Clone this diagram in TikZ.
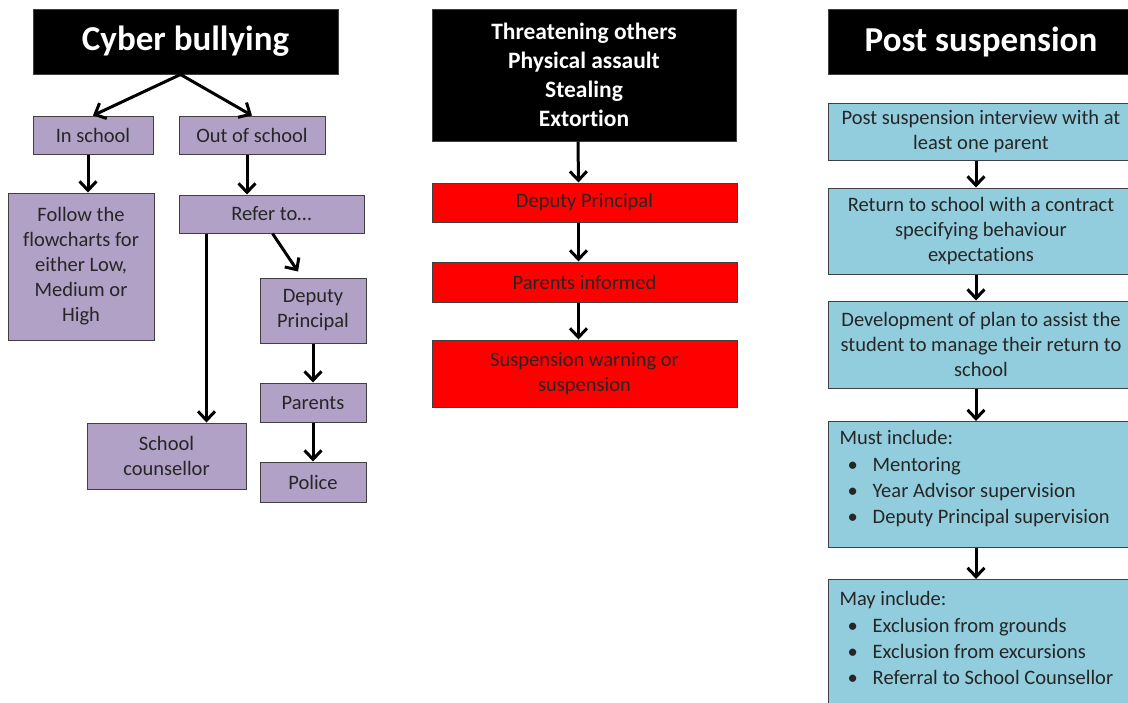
\documentclass[tikz,border=0pt]{standalone}
\usepackage{fontspec}
\setmainfont{Carlito}[Ligatures=NoCommon]
\usepackage{xcolor}
\usetikzlibrary{arrows.meta}
\definecolor{lilac}{RGB}{178,161,199}
\definecolor{aqua}{RGB}{146,205,221}

\begin{document}
\begin{tikzpicture}[x=1pt,y=-1pt,
  box/.style={draw=black!75, line width=1pt, text=black!85, align=center, inner sep=0pt, font=\fontsize{20.5}{25}\selectfont},
  lilacbox/.style={box, fill=lilac},
  redbox/.style={box, fill=red},
  aquabox/.style={box, fill=aqua},
  headbox/.style={box, fill=black, text=white, font=\bfseries\fontsize{35}{40}\selectfont},
  listbox/.style={box, fill=aqua, anchor=north west, align=flush left, text width=284pt, inner xsep=11pt, inner ysep=8pt, font=\fontsize{20.5}{26.3}\selectfont},
  arr/.style={-{Straight Barb[length=9pt,width=17pt]}, line width=3pt}]
\useasboundingbox (0,0) rectangle (1128,702);
\clip (0,0) rectangle (1128,702);

\node[headbox, minimum width=305pt, minimum height=65pt] (cb) at (185.5,41.5) {Cyber bullying};
\node[lilacbox, minimum width=120pt, minimum height=38pt] (insch) at (93,135) {In school};
\node[lilacbox, minimum width=146pt, minimum height=38pt] (outsch) at (252,135) {Out of school};
\node[lilacbox, minimum width=146pt, minimum height=147pt] (follow) at (81,266.5) {Follow the\\flowcharts for\\either Low,\\Medium or\\High};
\node[lilacbox, minimum width=185pt, minimum height=38pt] (refer) at (271.5,214) {Refer to\dots};
\node[lilacbox, minimum width=106pt, minimum height=65pt] (dp) at (313,310.5) {Deputy\\Principal};
\node[lilacbox, minimum width=106pt, minimum height=39pt] (par) at (313,402.5) {Parents};
\node[lilacbox, minimum width=106pt, minimum height=40pt] (pol) at (313,482) {Police};
\node[lilacbox, minimum width=159pt, minimum height=66pt] (coun) at (166.5,456) {School\\counsellor};

\draw[arr] ([xshift=-5pt]cb.south) -- (insch.north);
\draw[arr] ([xshift=-5pt]cb.south) -- (outsch.north);
\draw[arr] ([xshift=-5pt]insch.south) -- ([xshift=-5pt]follow.north -| insch.south);
\draw[arr] ([xshift=-5pt]outsch.south) -- ([xshift=-5pt]refer.north -| outsch.south);
\draw[arr] ([xshift=28pt]refer.south west) -- ([xshift=28pt]refer.south west |- coun.north);
\draw[arr] ([xshift=94pt]refer.south west) -- ([xshift=-15pt,yshift=6pt]dp.north);
\draw[arr] (dp.south) -- (par.north);
\draw[arr] (par.south) -- (pol.north);

\node[headbox, minimum width=304pt, minimum height=132pt, font=\bfseries\fontsize{23.5}{29}\selectfont] (threat) at (584,75) {Threatening others\\Physical assault\\Stealing\\Extortion};
\node[redbox, minimum width=305pt, minimum height=39pt] (rdp) at (584.5,202.5) {Deputy Principal};
\node[redbox, minimum width=305pt, minimum height=40pt] (rpar) at (584.5,282) {Parents informed};
\node[redbox, minimum width=305pt, minimum height=67pt] (rsus) at (584.5,373.5) {Suspension warning or\\suspension};

\draw[arr] ([xshift=-6pt]threat.south) -- ([xshift=-6pt]rdp.north);
\draw[arr] ([xshift=-6pt]rdp.south) -- ([xshift=-6pt]rpar.north);
\draw[arr] ([xshift=-6pt]rpar.south) -- ([xshift=-6pt]rsus.north);

\node[headbox, minimum width=306pt, minimum height=65pt] (ps) at (981,41.5) {Post suspension};
\node[aquabox, minimum width=306pt, minimum height=57pt] (interv) at (981,131.5) {Post suspension interview with at\\least one parent};
\node[aquabox, minimum width=306pt, minimum height=86pt] (contract) at (981,231) {Return to school with a contract\\specifying behaviour\\expectations};
\node[aquabox, minimum width=306pt, minimum height=87pt] (plan) at (981,344.5) {Development of plan to assist the\\student to manage their return to\\school};
\node[listbox, inner ysep=9pt] (must) at (828,421) {Must include:\\
\hspace*{8pt}\textbullet\hspace{15pt}Mentoring\\
\hspace*{8pt}\textbullet\hspace{15pt}Year Advisor supervision\\
\hspace*{8pt}\textbullet\hspace{15pt}Deputy Principal supervision\par\vspace*{12pt}};
\node[listbox, inner ysep=12pt] (may) at (828,579) {May include:\\
\hspace*{8pt}\textbullet\hspace{15pt}Exclusion from grounds\\
\hspace*{8pt}\textbullet\hspace{15pt}Exclusion from excursions\\
\hspace*{8pt}\textbullet\hspace{15pt}Referral to School Counsellor\par\vspace*{40pt}};

\draw[arr] ([xshift=-5pt]interv.south) -- ([xshift=-5pt]contract.north);
\draw[arr] ([xshift=-5pt]contract.south) -- ([xshift=-5pt]plan.north);
\draw[arr] ([xshift=-5pt]plan.south) -- ([xshift=-5pt]plan.south |- must.north);
\draw[arr] ([xshift=-5pt]plan.south |- must.south) -- ([xshift=-5pt]plan.south |- may.north);
\end{tikzpicture}
\end{document}
